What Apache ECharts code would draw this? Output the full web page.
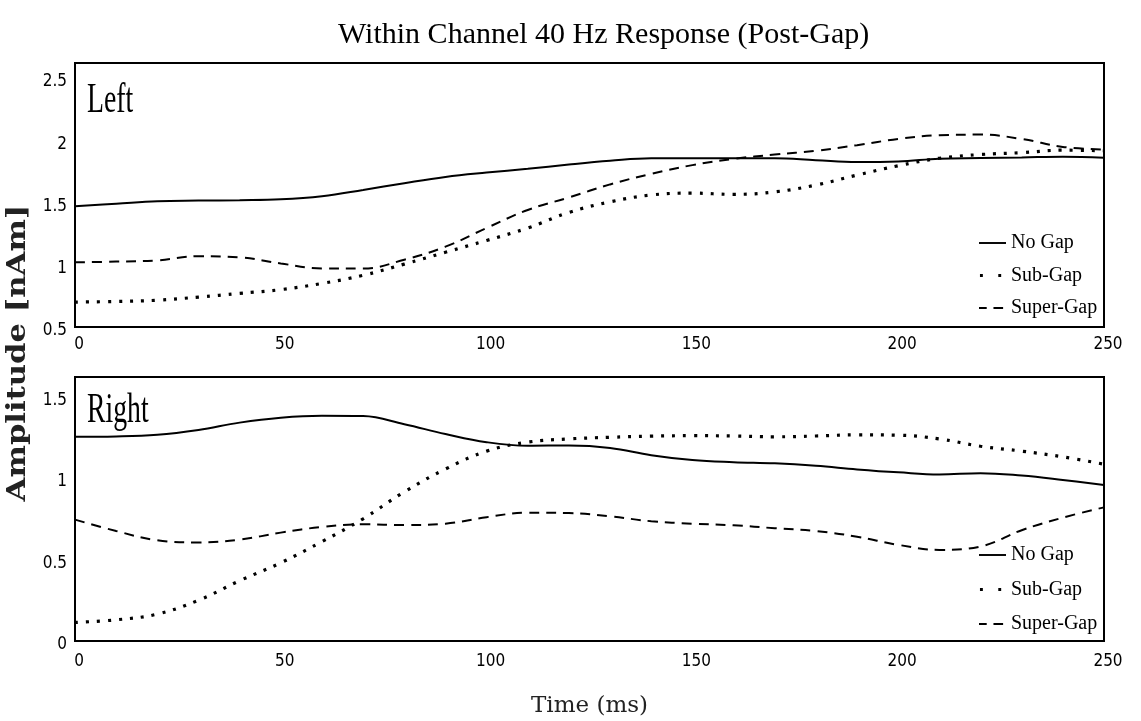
<!DOCTYPE html>
<html>
<head>
<meta charset="utf-8">
<script src="https://cdn.jsdelivr.net/npm/echarts@6/dist/echarts.min.js"></script>
<style>
html,body{margin:0;padding:0;background:#fff;}
#chart{width:1141px;height:721px;}
</style>
</head>
<body>
<div id="chart"></div>
<script>
// ---- data ----
const timeMs = [0,10,20,30,40,50,60,70,80,90,100,110,120,130,140,150,160,170,180,190,200,210,220,230,240,250];

const leftNoGap    = [1.47,1.49,1.51,1.515,1.518,1.525,1.55,1.60,1.655,1.705,1.74,1.77,1.805,1.835,1.855,1.855,1.855,1.855,1.84,1.826,1.83,1.852,1.857,1.862,1.868,1.86];
const leftSubGap   = [0.70,0.705,0.715,0.74,0.77,0.80,0.85,0.915,1.005,1.10,1.195,1.295,1.42,1.505,1.56,1.575,1.565,1.585,1.64,1.72,1.795,1.855,1.885,1.90,1.92,1.915];
const leftSuperGap = [1.02,1.025,1.035,1.068,1.06,1.01,0.97,0.97,1.04,1.145,1.295,1.44,1.54,1.645,1.73,1.80,1.85,1.885,1.915,1.96,2.01,2.04,2.045,2.01,1.946,1.925];

const rightNoGap    = [1.253,1.255,1.265,1.295,1.34,1.37,1.382,1.38,1.33,1.27,1.22,1.198,1.20,1.185,1.14,1.11,1.097,1.09,1.075,1.053,1.035,1.022,1.03,1.015,0.988,0.957];
const rightSubGap   = [0.114,0.13,0.165,0.25,0.37,0.48,0.61,0.75,0.915,1.055,1.165,1.22,1.24,1.25,1.257,1.26,1.258,1.253,1.258,1.265,1.263,1.24,1.195,1.165,1.13,1.085];
const rightSuperGap = [0.745,0.675,0.618,0.605,0.622,0.665,0.70,0.716,0.712,0.72,0.76,0.787,0.785,0.765,0.735,0.72,0.71,0.692,0.675,0.64,0.59,0.559,0.58,0.68,0.757,0.82];

const seriesNames = ['No Gap','Sub-Gap','Super-Gap'];
const xTicks = [0,50,100,150,200,250];
const leftYTicks = [0.5,1,1.5,2,2.5];
const rightYTicks = [0,0.5,1,1.5];

const titleText = 'Within Channel 40 Hz Response (Post-Gap)';
const panelLabels = ['Left','Right'];
const yTitle = 'Amplitude [nAm]';
const xTitle = 'Time (ms)';

// ---- chart ----
const pairs = (ys) => timeMs.map((t,i)=>[t, ys[i]]);
const serifFont = "'Liberation Serif', 'DejaVu Serif', serif";
const narrowFont = "'Liberation Sans Narrow', 'DejaVu Sans Condensed', 'Liberation Sans', sans-serif";

const lineStyles = [
  {type:'solid', width:2},
  {type:[3,8], width:3.2, cap:'butt'},
  {type:[10,7], width:2}
];
// legend glyphs: solid bar, two dots, two dashes (M points fix the icon bounds)
const legendIcons = [
  'path://M0,0M28,4M0,1H28V3H0Z',
  'path://M0,0M28,4M1,0.5H4V3.5H1ZM20,0.5H23V3.5H20Z',
  'path://M0,0M28,4M0,1H8V3H0ZM15,1H25V3H15Z'
];

function mkSeries(name, ys, idx, styleIdx){
  return {
    name, type:'line', data: pairs(ys), xAxisIndex: idx, yAxisIndex: idx,
    smooth: 0.4, symbol:'none', showSymbol:false,
    lineStyle: Object.assign({color:'#000'}, lineStyles[styleIdx]),
    itemStyle:{color:'#000'},
    emphasis:{disabled:true}, silent:true
  };
}

function tickFormatter(ticks, rich){
  return function(v){
    for (const t of ticks){
      if (Math.abs(v - t) < 1e-9) return rich ? '{d|' + t + '}' : String(t);
    }
    return '';
  };
}

function xAxisCfg(idx, margin, name){
  const cfg = {
    type:'value', gridIndex: idx, min:0, max:250, interval:50,
    axisLine:{show:false}, axisTick:{show:false}, splitLine:{show:false},
    axisLabel:{color:'#000', fontFamily: narrowFont, fontSize:17, margin: margin,
      padding:[0,0,0,8], formatter: tickFormatter(xTicks, false)}
  };
  if (name){
    cfg.name = name; cfg.nameLocation = 'middle'; cfg.nameGap = 54;
    cfg.nameTextStyle = {color:'#222', fontFamily:"'DejaVu Serif', serif", fontSize:23};
  }
  return cfg;
}
function yAxisCfg(idx, min, max, ticks){
  return {
    type:'value', gridIndex: idx, min:min, max:max, interval:0.5,
    axisLine:{show:false}, axisTick:{show:false}, splitLine:{show:false},
    axisLabel:{color:'#000', fontFamily: narrowFont, fontSize:17, margin:8,
      formatter: tickFormatter(ticks, true),
      rich:{ d:{color:'#000', fontFamily: narrowFont, fontSize:17, padding:[8,0,0,0]} }}
  };
}

function legendCfg(top, gap){
  return {
    data: seriesNames.map((n,i)=>({name:n, icon: legendIcons[i]})),
    orient:'vertical', left: 979, top: top, padding:0,
    itemWidth:27, itemHeight:4, itemGap: gap, selectedMode:false,
    itemStyle:{color:'#000', borderWidth:0},
    textStyle:{color:'#000', fontFamily: serifFont, fontSize:20, lineHeight:22}
  };
}

const chart = echarts.init(document.getElementById('chart'), null, {renderer:'canvas'});
chart.setOption({
  animation:false,
  backgroundColor:'#fff',
  title:{
    text: titleText, left:333, top:15,
    textStyle:{color:'#000', fontFamily: serifFont, fontWeight:'normal', fontSize:30}
  },
  grid:[
    {left:75, right:37, top:63, height:264, show:true, borderColor:'#000', borderWidth:2, containLabel:false},
    {left:75, right:37, top:377, height:264, show:true, borderColor:'#000', borderWidth:2, containLabel:false}
  ],
  xAxis:[ xAxisCfg(0, 9, null), xAxisCfg(1, 12, xTitle) ],
  yAxis:[ yAxisCfg(0, 0.5, 2.62, leftYTicks), yAxisCfg(1, 0, 1.62, rightYTicks) ],
  legend:[ legendCfg(232, 10.5), legendCfg(544, 12.5) ],
  series:[
    mkSeries(seriesNames[0], leftNoGap, 0, 0),
    mkSeries(seriesNames[1], leftSubGap, 0, 1),
    mkSeries(seriesNames[2], leftSuperGap, 0, 2),
    mkSeries(seriesNames[0], rightNoGap, 1, 0),
    mkSeries(seriesNames[1], rightSubGap, 1, 1),
    mkSeries(seriesNames[2], rightSuperGap, 1, 2)
  ],
  graphic:[
    {type:'text', x:87, y:101, scaleX:0.66, silent:true,
      style:{text: panelLabels[0], fill:'#000', align:'left', verticalAlign:'middle',
        font:"42px 'Liberation Serif', 'DejaVu Serif', serif"}},
    {type:'text', x:87, y:411, scaleX:0.66, silent:true,
      style:{text: panelLabels[1], fill:'#000', align:'left', verticalAlign:'middle',
        font:"42px 'Liberation Serif', 'DejaVu Serif', serif"}},
    {type:'text', x:18, y:353, rotation: Math.PI/2, scaleX:1.18, silent:true,
      style:{text: yTitle, fill:'#222', align:'center', verticalAlign:'middle',
        font:"bold 26px 'DejaVu Serif', serif"}}
  ]
});
</script>
</body>
</html>
